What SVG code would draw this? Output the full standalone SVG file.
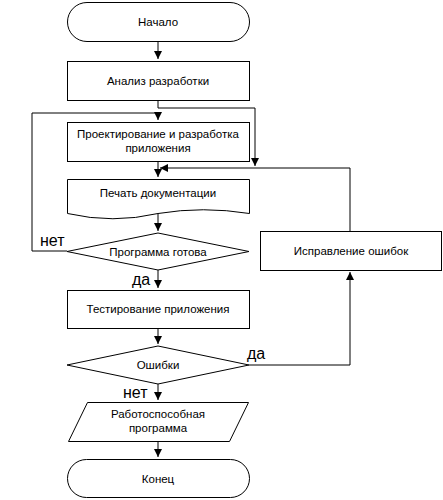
<svg xmlns="http://www.w3.org/2000/svg" width="443" height="500" viewBox="0 0 443 500">
<style>
.s{fill:#fff;stroke:#000;stroke-width:1}
.t{font-family:"Liberation Sans",Arial,sans-serif;font-size:11.5px;fill:#000;text-anchor:middle}
.l{font-family:"Liberation Sans",Arial,sans-serif;font-size:16px;fill:#000}
.c{fill:none;stroke:#000;stroke-width:1}
</style>
<defs>
<marker id="a" markerUnits="userSpaceOnUse" markerWidth="10" markerHeight="10" refX="8" refY="4" orient="auto">
<path d="M0,0 L8,4 L0,8 Z" fill="#000"/>
</marker>
</defs>
<rect width="443" height="500" fill="#fff"/>
<g id="connectors">
<path class="c" d="M158,41 V59" marker-end="url(#a)"/>
<path class="c" d="M158,100 V108 H255 V166" marker-end="url(#a)"/>
<path class="c" d="M67,251 H32 V113 H158 V120" marker-end="url(#a)"/>
<path class="c" d="M158,161 V177" marker-end="url(#a)"/>
<path class="c" d="M350,231 V168 H160" marker-end="url(#a)"/>
<path class="c" d="M158,214 V231" marker-end="url(#a)"/>
<path class="c" d="M158,270 V288" marker-end="url(#a)"/>
<path class="c" d="M158,328 V344" marker-end="url(#a)"/>
<path class="c" d="M249,365 H350 V272" marker-end="url(#a)"/>
<path class="c" d="M158,384 V400" marker-end="url(#a)"/>
<path class="c" d="M158,441 V457" marker-end="url(#a)"/>
</g>
<g id="labels">
<text class="l" x="40" y="246">нет</text>
<text class="l" x="132" y="285">да</text>
<text class="l" x="247" y="359">да</text>
<text class="l" x="123" y="398">нет</text>
</g>
<g id="start"><rect class="s" x="67.5" y="2.5" width="182" height="39" rx="19.5"/><text class="t" x="158" y="25.5">Начало</text></g>
<g id="analysis"><rect class="s" x="67.5" y="61.5" width="182" height="39"/><text class="t" x="158" y="84.5">Анализ разработки</text></g>
<g id="design"><rect class="s" x="67.5" y="122.5" width="182" height="39"/><text class="t" x="158" y="138">Проектирование и разработка</text><text class="t" x="158" y="152">приложения</text></g>
<g id="print"><path class="s" d="M67.5,179.5 H249.5 V213.5 Q203,206 158,213.5 Q113,224 67.5,213.5 Z"/><text class="t" x="158" y="197">Печать документации</text></g>
<g id="ready"><path class="s" d="M158,233 L249,251.5 L158,270 L67,251.5 Z"/><text class="t" x="158" y="255.5">Программа готова</text></g>
<g id="fix"><rect class="s" x="260.5" y="231.5" width="181" height="39"/><text class="t" x="351" y="255">Исправление ошибок</text></g>
<g id="test"><rect class="s" x="67.5" y="290.5" width="182" height="38"/><text class="t" x="158" y="313">Тестирование приложения</text></g>
<g id="errors"><path class="s" d="M158,346 L249,365 L158,384 L67,365 Z"/><text class="t" x="158" y="369">Ошибки</text></g>
<g id="result"><path class="s" d="M87.5,402.5 H248.5 L229.5,441.5 H68.5 Z"/><text class="t" x="158" y="417.5">Работоспособная</text><text class="t" x="158" y="431.5">программа</text></g>
<g id="end"><rect class="s" x="67.5" y="459.5" width="182" height="38" rx="19"/><text class="t" x="158" y="482.5">Конец</text></g>
</svg>
